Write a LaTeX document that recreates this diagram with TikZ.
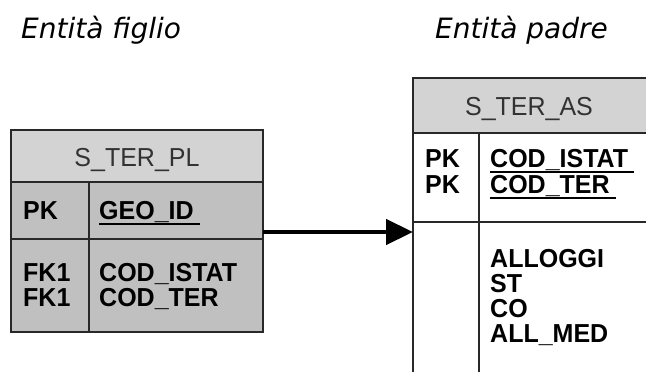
\documentclass[tikz,border=0pt]{standalone}
\usepackage{fontspec}
\usepackage{graphicx}
\usetikzlibrary{arrows.meta}
\newfontfamily\tabfont{Liberation Sans}
\newfontfamily\titfont{DejaVu Sans}
\definecolor{hdrgray}{RGB}{211,211,211}
\definecolor{bodygray}{RGB}{192,192,192}
\definecolor{linegray}{RGB}{40,40,40}
\definecolor{hdrtext}{RGB}{50,50,50}
\newcommand{\tall}[1]{\scalebox{1}[1.04]{#1}}
\tikzset{
  frame/.style={draw=linegray, line width=1.6pt, inner sep=0pt, outer sep=0pt, anchor=north west},
  hdrtxt/.style={inner sep=0pt, anchor=base, text=hdrtext, font=\tabfont\fontsize{25}{27}\selectfont},
  celltxt/.style={inner sep=0pt, anchor=base west, text=black, font=\tabfont\bfseries\fontsize{25}{27}\selectfont},
  tittxt/.style={inner sep=0pt, anchor=base west, text=black, font=\titfont\itshape\fontsize{28}{30}\selectfont},
  ul/.style={draw=black, line width=2.6pt},
  sep/.style={draw=linegray, line width=1.6pt},
  link/.style={draw=black, line width=4.5pt, -{Triangle[length=27pt,width=25pt]}}
}
\begin{document}
\begin{tikzpicture}[x=1pt,y=-1pt]
\useasboundingbox (0,0) rectangle (646,372);
\clip (0,0) rectangle (646,372);
\fill[white] (0,0) rectangle (646,372);
% titles
\node[tittxt] (t1) at (21,38) {Entità figlio};
\node[tittxt] (t2) at (435,38) {Entità padre};
% left table
\node[frame, fill=bodygray, minimum width=252pt, minimum height=202pt] (lt) at (11,130) {};
\node[frame, fill=hdrgray, minimum width=252pt, minimum height=52pt] (lth) at (11,130) {};
\draw[sep] (11,239) -- (263,239);
\draw[sep] (89,182) -- (89,332);
\node[hdrtxt] (lht) at (137,166) {\tall{S\_TER\_PL}};
\node[celltxt] (lpk) at (23,219) {\tall{PK}};
\node[celltxt] (lgeo) at (99,219) {\tall{GEO\_ID}};
\draw[ul] ([yshift=-5pt]lgeo.base west) -- ([xshift=6pt,yshift=-5pt]lgeo.base east);
\node[celltxt] (lfk1) at (23,281) {\tall{FK1}};
\node[celltxt] (lfk2) at (23,306) {\tall{FK1}};
\node[celltxt] (lc1) at (99,281) {\tall{COD\_ISTAT}};
\node[celltxt] (lc2) at (99,306) {\tall{COD\_TER}};
% right table
\node[frame, fill=white, minimum width=240pt, minimum height=310pt] (rt) at (413,78) {};
\node[frame, fill=hdrgray, minimum width=240pt, minimum height=55pt] (rth) at (413,78) {};
\draw[sep] (413,222) -- (653,222);
\draw[sep] (479,133) -- (479,388);
\node[hdrtxt] (rht) at (529,115) {\tall{S\_TER\_AS}};
\node[celltxt] (rpk1) at (425,167) {\tall{PK}};
\node[celltxt] (rpk2) at (425,193) {\tall{PK}};
\node[celltxt] (rc1) at (490,167) {\tall{COD\_ISTAT}};
\node[celltxt] (rc2) at (490,193) {\tall{COD\_TER}};
\draw[ul] ([yshift=-5pt]rc1.base west) -- ([xshift=6pt,yshift=-5pt]rc1.base east);
\draw[ul] ([yshift=-5pt]rc2.base west) -- ([xshift=6pt,yshift=-5pt]rc2.base east);
\node[celltxt] (ra1) at (490,267) {\tall{ALLOGGI}};
\node[celltxt] (ra2) at (490,292) {\tall{ST}};
\node[celltxt] (ra3) at (490,317) {\tall{CO}};
\node[celltxt] (ra4) at (490,342) {\tall{ALL\_MED}};
% connector
\draw[link] (lt.east |- 0,232) -- (rt.west |- 0,232);
\end{tikzpicture}
\end{document}
